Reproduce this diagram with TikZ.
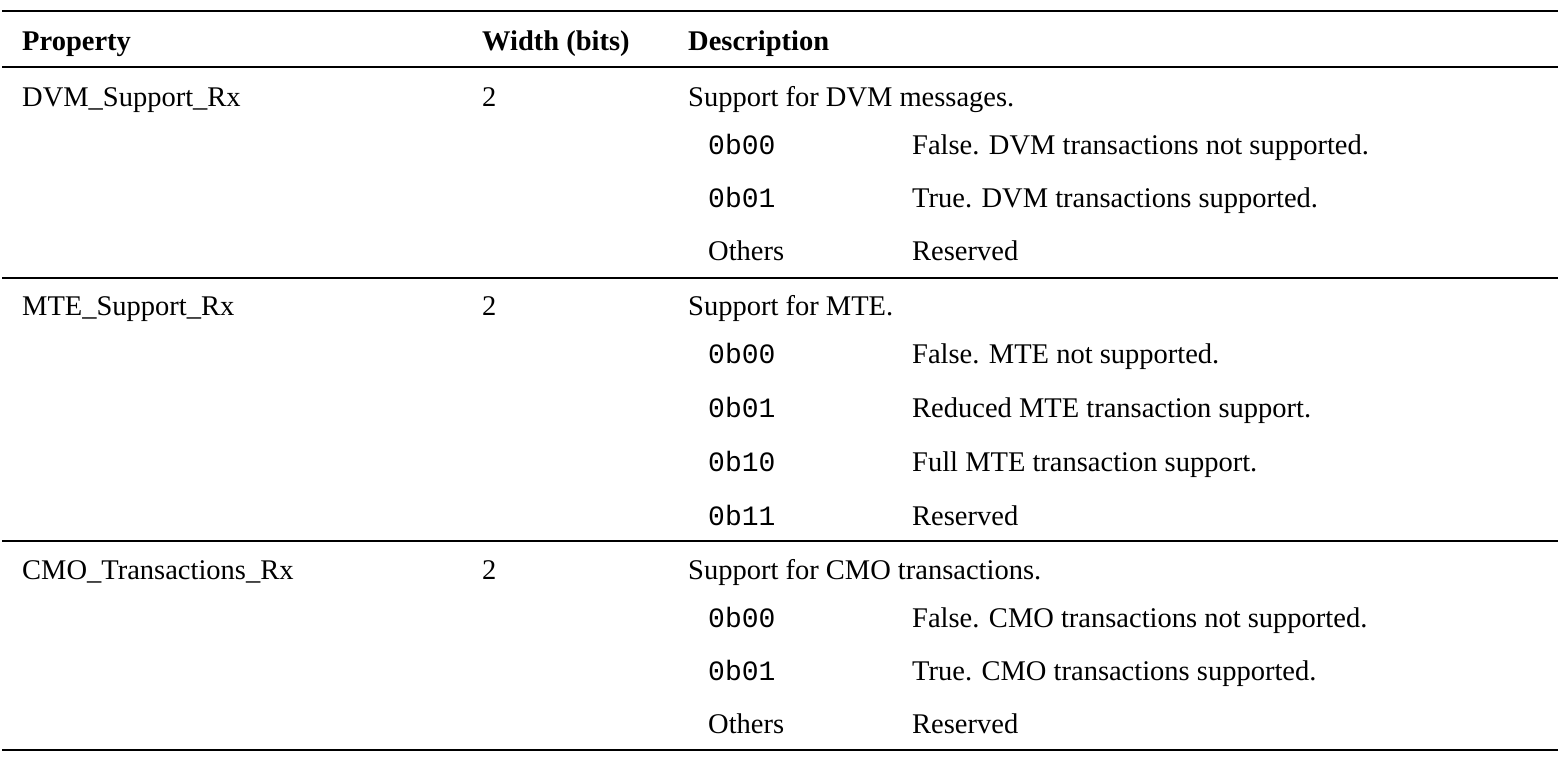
\documentclass[tikz,border=0pt]{standalone}
\usepackage{fontspec}
\setmainfont{Liberation Serif}
\setmonofont{Liberation Mono}
\begin{document}
\begin{tikzpicture}[x=1pt,y=-1pt,
  txt/.style={anchor=base west,inner sep=0pt,font=\fontsize{28.5}{32}\selectfont},
  hd/.style={txt,font=\fontsize{28.5}{32}\selectfont\bfseries},
  cd/.style={txt,font=\fontsize{28}{32}\selectfont\ttfamily},
  thick rule/.style={line width=2.6pt},
  thin rule/.style={line width=1.2pt}]
\useasboundingbox (0,0) rectangle (1566,756);
\coordinate (L0) at (2,11); \coordinate (R0) at (1558,11);
\coordinate (L1) at (2,67); \coordinate (R1) at (1558,67);
\coordinate (L2) at (2,278); \coordinate (R2) at (1558,278);
\coordinate (L3) at (2,541); \coordinate (R3) at (1558,541);
\coordinate (L4) at (2,750); \coordinate (R4) at (1558,750);
\draw[thick rule] (L0) -- (R0);
\draw[thick rule] (L1) -- (R1);
\draw[thin rule] (L2) -- (R2);
\draw[thin rule] (L3) -- (R3);
\draw[thick rule] (L4) -- (R4);
\node[hd] (h1) at (22,50) {Property};
\node[hd] (h2) at (482,50) {Width (bits)};
\node[hd] (h3) at (688,50) {Description};
% row 1
\node[txt] (p1) at (22,106) {DVM\_Support\_Rx};
\node[txt] (w1) at (482,106) {2};
\node[txt] (d1) at (688,106) {Support for DVM messages.};
\node[cd] (c11) at (708,154) {0b00}; \node[txt] (e11) at (912,154) {False. DVM transactions not supported.};
\node[cd] (c12) at (708,207) {0b01}; \node[txt] (e12) at (912,207) {True. DVM transactions supported.};
\node[txt] (c13) at (708,260) {Others}; \node[txt] (e13) at (912,260) {Reserved};
% row 2
\node[txt] (p2) at (22,315) {MTE\_Support\_Rx};
\node[txt] (w2) at (482,315) {2};
\node[txt] (d2) at (688,315) {Support for MTE.};
\node[cd] (c21) at (708,363) {0b00}; \node[txt] (e21) at (912,363) {False. MTE not supported.};
\node[cd] (c22) at (708,417) {0b01}; \node[txt] (e22) at (912,417) {Reduced MTE transaction support.};
\node[cd] (c23) at (708,471) {0b10}; \node[txt] (e23) at (912,471) {Full MTE transaction support.};
\node[cd] (c24) at (708,525) {0b11}; \node[txt] (e24) at (912,525) {Reserved};
% row 3
\node[txt] (p3) at (22,579) {CMO\_Transactions\_Rx};
\node[txt] (w3) at (482,579) {2};
\node[txt] (d3) at (688,579) {Support for CMO transactions.};
\node[cd] (c31) at (708,627) {0b00}; \node[txt] (e31) at (912,627) {False. CMO transactions not supported.};
\node[cd] (c32) at (708,680) {0b01}; \node[txt] (e32) at (912,680) {True. CMO transactions supported.};
\node[txt] (c33) at (708,733) {Others}; \node[txt] (e33) at (912,733) {Reserved};
\end{tikzpicture}
\end{document}
